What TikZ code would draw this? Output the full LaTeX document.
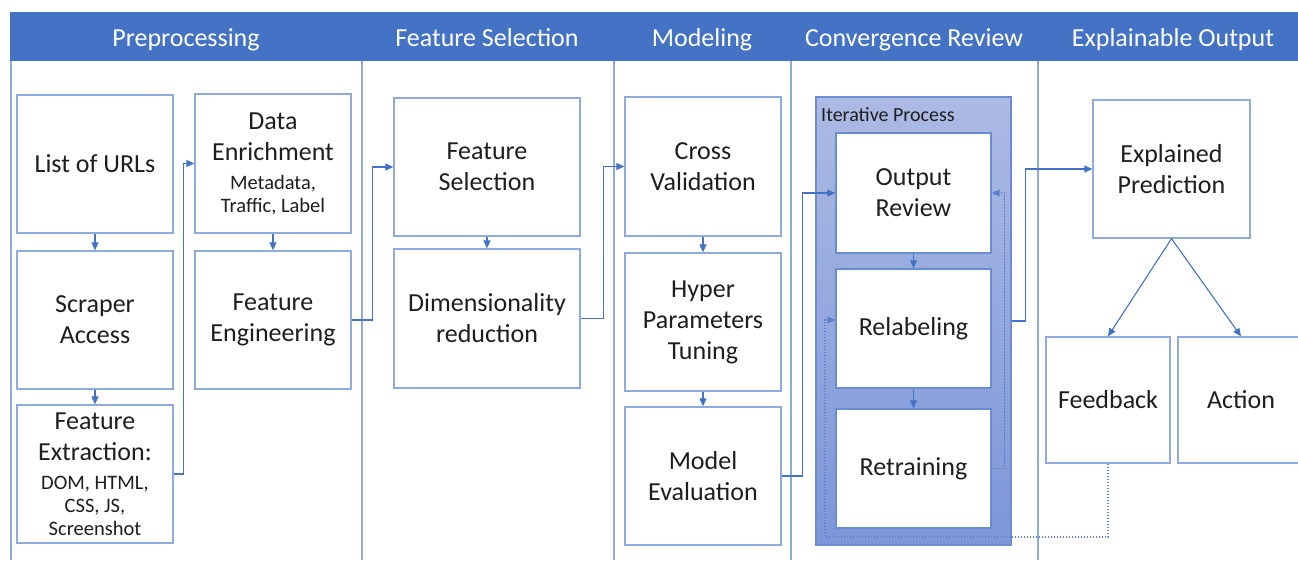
\documentclass[tikz,border=0pt]{standalone}
\usepackage{fontspec}
\setmainfont{Carlito}
\usetikzlibrary{arrows.meta}
\definecolor{hdr}{RGB}{68,114,196}
\definecolor{bline}{RGB}{143,170,220}
\definecolor{arr}{RGB}{68,114,196}
\definecolor{darr}{RGB}{90,128,206}
\definecolor{itop}{RGB}{172,186,228}
\definecolor{ibot}{RGB}{124,150,216}
\definecolor{iborder}{RGB}{110,140,210}
\definecolor{txt}{RGB}{30,30,30}
\newcommand{\sm}{\fontsize{20.5}{24}\selectfont}
\begin{document}
\begin{tikzpicture}[x=1pt,y=-1pt,
  box/.style={draw=bline,line width=1.3pt,fill=white,align=center,inner sep=0pt,text=txt,
    font=\fontsize{26}{31}\selectfont},
  ibox/.style={box,draw=hdr!80},
  hdrtext/.style={text=white,font=\fontsize{26}{30}\selectfont,anchor=base},
  colline/.style={draw=bline,line width=1.1pt},
  conn/.style={draw=arr,line width=1.1pt,-{Triangle[length=8pt,width=7pt]}},
  dconn/.style={conn,draw=darr,dash pattern=on 1.5pt off 1.5pt,line width=1.4pt},
  iter/.style={draw=iborder,line width=1.5pt,top color=itop,bottom color=ibot,inner sep=0pt}
]
\clip (0,0) rectangle (1298,560);
\fill[white] (0,0) rectangle (1298,560);
% header
\fill[hdr] (10,12) rectangle (1300,61);
\node[hdrtext] (h1) at (186,46) {Preprocessing};
\node[hdrtext] (h2) at (487,46) {Feature Selection};
\node[hdrtext] (h3) at (702,46) {Modeling};
\node[hdrtext] (h4) at (914,46) {Convergence Review};
\node[hdrtext] (h5) at (1173,46) {Explainable Output};
% column lines
\draw[colline] (11,61) -- (11,560);
\draw[colline] (362,61) -- (362,560);
\draw[colline] (614,61) -- (614,560);
\draw[colline] (791,61) -- (791,560);
\draw[colline] (1038,61) -- (1038,560);
% Preprocessing
\node[box,minimum width=156pt,minimum height=138pt] (list) at (95,164) {List of URLs};
\node[box,minimum width=156pt,minimum height=138pt] (scraper) at (95,320) {Scraper\\Access};
\node[box,minimum width=156pt,minimum height=138pt] (fext) at (95,474) {Feature\\Extraction:\\[-2pt]{\sm DOM, HTML,}\\[-8pt]{\sm CSS, JS,}\\[-8pt]{\sm Screenshot}};
\node[box,minimum width=156pt,minimum height=139pt] (denr) at (273,163.5) {Data\\Enrichment\\[-2pt]{\sm Metadata,}\\[-8pt]{\sm Traffic, Label}};
\node[box,minimum width=156pt,minimum height=138pt] (feng) at (273,320) {Feature\\Engineering};
% Feature selection
\node[box,minimum width=186pt,minimum height=138pt] (fsel) at (487,167) {Feature\\Selection};
\node[box,minimum width=186pt,minimum height=139pt] (dimr) at (487,318.5) {Dimensionality\\reduction};
% Modeling
\node[box,minimum width=156pt,minimum height=139pt] (cv) at (703,166.5) {Cross\\Validation};
\node[box,minimum width=156pt,minimum height=138pt] (hpt) at (703,322) {Hyper\\Parameters\\Tuning};
\node[box,minimum width=156pt,minimum height=138pt] (meval) at (703,476) {Model\\Evaluation};
% Convergence review
\node[iter,minimum width=195pt,minimum height=448pt] (iter) at (913.5,321) {};
\node[anchor=west,inner sep=0pt,text=txt,font=\fontsize{20}{22}\selectfont] (iterlbl) at (821,115) {Iterative Process};
\node[ibox,minimum width=155pt,minimum height=120pt] (orev) at (913.5,193) {Output\\Review};
\node[ibox,minimum width=155pt,minimum height=119pt] (relab) at (913.5,328.5) {Relabeling};
\node[ibox,minimum width=155pt,minimum height=119pt] (retr) at (913.5,468.5) {Retraining};
% Explainable output
\node[box,minimum width=157pt,minimum height=138pt] (expl) at (1171.5,169) {Explained\\Prediction};
\node[box,minimum width=124pt,minimum height=126pt] (fb) at (1108,400) {Feedback};
\node[box,minimum width=126pt,minimum height=126pt] (act) at (1241,400) {Action};
% connectors
\draw[conn] (list) -- (scraper);
\draw[conn] (scraper) -- (fext);
\draw[conn] (fext.east) -- ++(10,0) |- (denr.west);
\draw[conn] (denr) -- (feng);
\draw[conn] (feng.east) -- ++(21,0) |- (fsel.west);
\draw[conn] (fsel) -- (dimr);
\draw[conn] (dimr.east) -- ++(23,0) |- (cv.west);
\draw[conn] (cv) -- (hpt);
\draw[conn] (hpt) -- (meval);
\draw[conn] (meval.east) -- ++(21,0) |- (orev.west);
\draw[conn] (orev) -- (relab);
\draw[conn] (relab) -- (retr);
\draw[dconn] (retr.east) -- ++(13,0) |- (orev.east);
\draw[conn] (iter.east) -- ++(14,0) |- (expl.west);
\draw[conn] (expl.south) -- (fb.north);
\draw[conn] (expl.south) -- (act.north);
\coordinate (fbc) at (825,537);
\draw[dconn] (fb.south) |- (fbc) -- ([yshift=8.5pt]relab.west -| fbc) -- ([yshift=8.5pt]relab.west);
\end{tikzpicture}
\end{document}
